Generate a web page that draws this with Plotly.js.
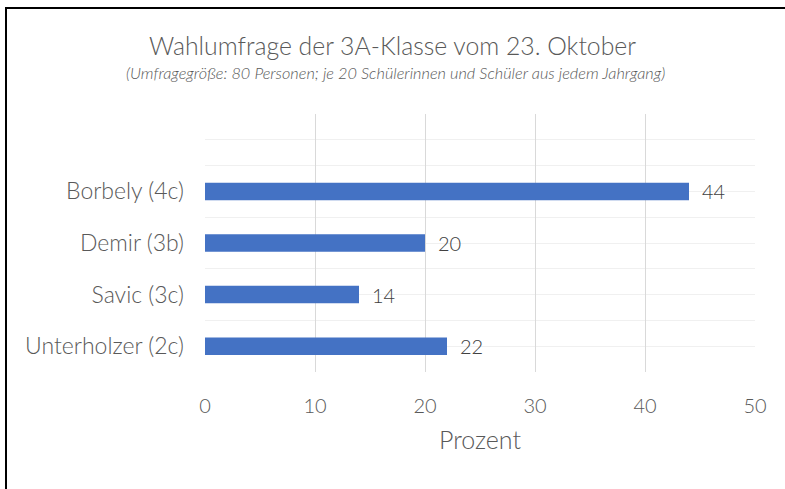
<!DOCTYPE html>
<html>
<head>
<meta charset="utf-8">
<script src="https://cdn.plot.ly/plotly-3.0.1.min.js"></script>
<style>
  html, body { margin: 0; padding: 0; background: #fff; overflow: hidden; }
  #chart { position: absolute; left: 0; top: 0; width: 785px; height: 489px; }
  #frameL { position: absolute; left: 5px; top: 7px; width: 2px; height: 482px; background: #000; }
  #frameT { position: absolute; left: 5px; top: 7px; width: 780px; height: 2px; background: #000; }
</style>
</head>
<body>
<div id="chart"></div>
<div id="frameL"></div>
<div id="frameT"></div>
<script>
// Data (bottom to top order as in the chart)
const candidates = ["Unterholzer (2c)", "Savic (3c)", "Demir (3b)", "Borbely (4c)"];
const percent = [22, 14, 20, 44];
const xTicks = [0, 10, 20, 30, 40, 50];

const chartTitle = "Wahlumfrage der 3A-Klasse vom 23. Oktober";
const chartSubtitle = "(Umfragegröße: 80 Personen; je 20 Schülerinnen und Schüler aus jedem Jahrgang)";
const xTitle = "Prozent";

const FONT = "Lato, 'Open Sans', sans-serif";

const W = 785, H = 489, L = 205, R = 30, T = 114, B = 117;
const PW = W - L - R, PH = H - T - B;
const px2x = p => (p - L) / PW;
const px2y = p => 1 - (p - T) / PH;

// category slots: index of each candidate on the y axis
const slots = candidates.map((_, i) => i);

const traces = [{
  type: "bar",
  orientation: "h",
  x: percent,
  y: slots,
  width: 0.34,
  marker: { color: "#4472C4" },
  texttemplate: "\u2002%{x}",
  textposition: "outside",
  constraintext: "none",
  cliponaxis: false,
  textfont: { family: FONT, size: 20, weight: 300, color: "#404040" },
  hoverinfo: "none"
}];

const layout = {
  width: W, height: H,
  margin: { l: L, r: R, t: T, b: B },
  paper_bgcolor: "#ffffff",
  plot_bgcolor: "rgba(0,0,0,0)",
  showlegend: false,
  font: { family: FONT, color: "#595959" },
  title: {
    text: chartTitle,
    font: { family: FONT, size: 24.8, weight: 300, color: "#595959" },
    x: 0.5, xanchor: "center",
    y: 1 - 46 / H, yanchor: "middle", yref: "container"
  },
  annotations: [{
    text: "<i>" + chartSubtitle + "</i>",
    xref: "paper", yref: "paper",
    x: px2x(395), y: px2y(73),
    xanchor: "center", yanchor: "middle",
    showarrow: false,
    font: { family: FONT, size: 16.3, weight: 300, color: "#595959" }
  }],
  xaxis: {
    range: [0, 50],
    tickvals: xTicks,
    showgrid: true, gridcolor: "#d9d9d9", gridwidth: 1,
    zeroline: false, showline: false,
    ticks: "", ticklabelstandoff: 20,
    tickfont: { family: FONT, size: 20, weight: 300, color: "#595959" },
    title: { text: xTitle, font: { family: FONT, size: 25, weight: 300, color: "#595959" }, standoff: 15 },
    fixedrange: true
  },
  yaxis: {
    range: [-0.5, 4.5],
    tickmode: "array", tickvals: slots, ticktext: candidates,
    showgrid: false, zeroline: false, showline: false,
    ticks: "", ticklabelstandoff: 20,
    tickfont: { family: FONT, size: 23, weight: 300, color: "#595959" },
    minor: { tick0: -0.5, dtick: 0.5, showgrid: true, gridcolor: "#f0f0f0", gridwidth: 1, ticks: "" },
    fixedrange: true
  }
};

Plotly.newPlot("chart", traces, layout, { displayModeBar: false, staticPlot: true });
</script>
</body>
</html>
